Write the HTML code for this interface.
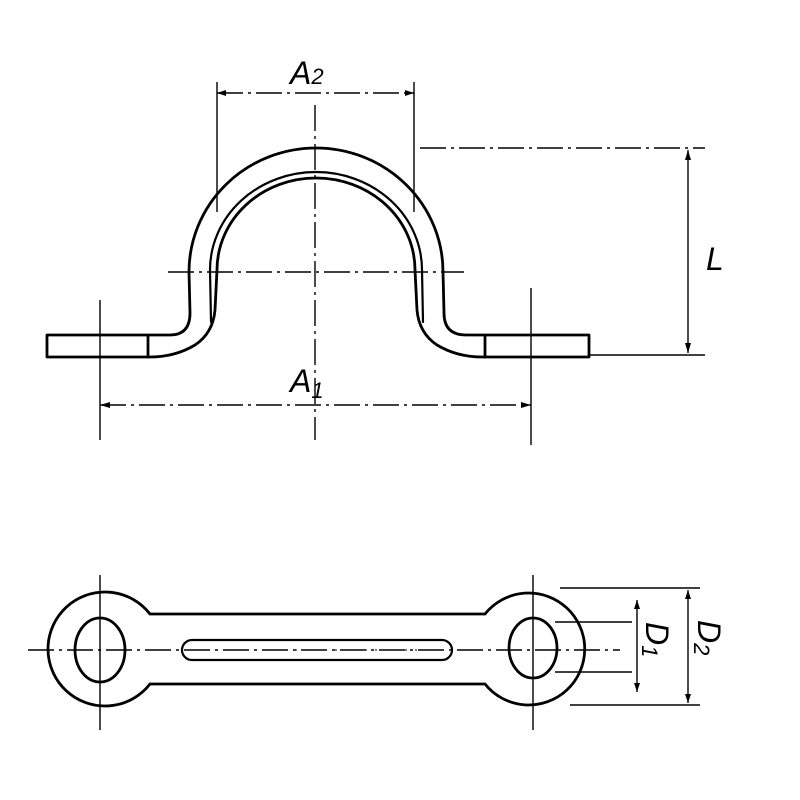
<!DOCTYPE html>
<html><head><style>html,body{margin:0;padding:0;background:#fff}svg{display:block}</style></head>
<body>
<svg width="800" height="800" viewBox="0 0 800 800" xmlns="http://www.w3.org/2000/svg" font-family="Liberation Sans, sans-serif">
<g fill="none" stroke="#000" stroke-width="2.8" stroke-linecap="round" stroke-linejoin="round">
<!-- outer profile -->
<path d="M47,335 L170,335 Q190,335 190,313 L189,272 A127,124 0 0 1 443,272 L444,313 Q444,335 466,335 L589,335 L589,357 L482,357 Q457,357 437,345 Q419,333 417,310 L415,270 A99,92 0 0 0 217,270 L215,310 Q213,333 195,345 Q175,357 150,357 L47,357 Z"/>
<path d="M148,336 V357"/>
<path d="M485,336 V357"/>
<!-- inner band -->
<path d="M211,322 L210,270 A106,98 0 0 1 422,270 L423,322" stroke-width="2.2"/>
</g>
<g fill="none" stroke="#000" stroke-width="1.4">
<path d="M315,105 V440" stroke-dasharray="26,5,3,5"/>
<path d="M168,272 H464" stroke-dasharray="26,5,3,5"/>
<path d="M100,300 V440"/>
<path d="M531,288 V445"/>
<path d="M217,82 V212"/>
<path d="M414,82 V212"/>
<path d="M217,93 H414" stroke-dasharray="26,5,3,5"/>
<path d="M100,405 H531" stroke-dasharray="26,5,3,5"/>
<path d="M420,148 H705" stroke-dasharray="26,5,3,5"/>
<path d="M590,355 H705"/>
<path d="M688,150 V353"/>
<path d="M28,650 H620" stroke-dasharray="26,5,3,5"/>
<path d="M100,575 V730"/>
<path d="M533,575 V730"/>
<path d="M555,622 H632"/>
<path d="M555,672 H632"/>
<path d="M560,588 H700"/>
<path d="M570,705 H700"/>
<path d="M637,600 V692"/>
<path d="M688,590 V703"/>
</g>
<g fill="#000">
<path d="M217,93 l9,-3 v6 z"/><path d="M414,93 l-9,-3 v6 z"/>
<path d="M100,405 l10,-3 v6 z"/><path d="M531,405 l-10,-3 v6 z"/>
<path d="M688,150 l-3,10 h6 z"/><path d="M688,353 l-3,-10 h6 z"/>
<path d="M637,600 l-3,9 h6 z"/><path d="M637,692 l-3,-9 h6 z"/>
<path d="M688,590 l-3,9 h6 z"/><path d="M688,703 l-3,-9 h6 z"/>
</g>
<g fill="none" stroke="#000" stroke-width="2.8">
<path d="M150,614 L485,614 A56,56 0 1 1 485,684 L150,684 A57,57 0 1 1 150,614 Z"/>
<ellipse cx="100" cy="650" rx="25" ry="32"/>
<ellipse cx="533" cy="648" rx="24" ry="30"/>
<rect x="182" y="640" width="270" height="20" rx="10" stroke-width="2.2"/>
</g>
<path d="M195,650 H440" stroke="#000" stroke-width="1" stroke-dasharray="2,8"/>
<g font-style="italic" font-size="32" fill="#000">
<text x="290" y="84">A<tspan font-size="22">2</tspan></text>
<text x="290" y="392">A<tspan font-size="22" dy="6">1</tspan></text>
<text x="706" y="270">L</text>
<text transform="translate(646,622) rotate(90)">D<tspan font-size="22" dy="4">1</tspan></text>
<text transform="translate(698,620) rotate(90)">D<tspan font-size="22" dy="4">2</tspan></text>
</g>
</svg>
</body></html>
